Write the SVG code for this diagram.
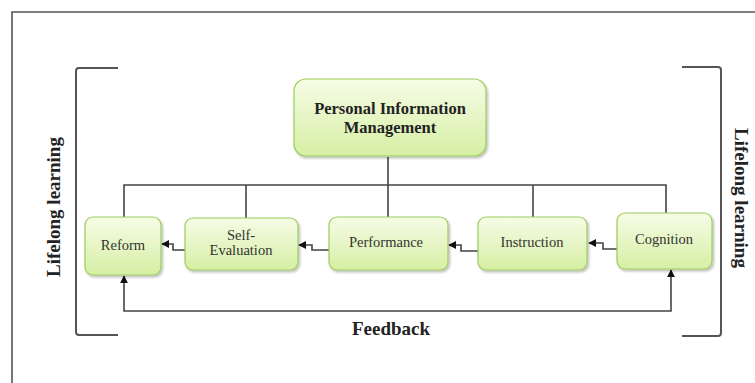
<svg xmlns="http://www.w3.org/2000/svg" width="755" height="383" viewBox="0 0 755 383">
  <style>
    .node rect { fill: url(#boxFill); stroke: #9ccc5c; stroke-width: 1.2; filter: url(#shadow); }
    .lbl { font-family: "Liberation Serif", "DejaVu Serif", serif; font-size: 14.5px; fill: #333; text-anchor: middle; }
    .title { font-family: "Liberation Serif", "DejaVu Serif", serif; font-size: 16.5px; font-weight: bold; fill: #222; text-anchor: middle; }
    .side { font-family: "Liberation Serif", "DejaVu Serif", serif; font-size: 19px; font-weight: bold; fill: #222; text-anchor: middle; }
    .wire { fill: none; stroke: #444; stroke-width: 1.6; }
    .arrow { fill: none; stroke: #444; stroke-width: 1.6; marker-end: url(#head); }
    .bracket { fill: none; stroke: #555; stroke-width: 2; stroke-linejoin: round; }
  </style>
  <defs>
    <linearGradient id="boxFill" x1="0" y1="0" x2="0" y2="1">
      <stop offset="0" stop-color="#f6fce6"/>
      <stop offset="1" stop-color="#d6efa4"/>
    </linearGradient>
    <filter id="shadow" x="-10%" y="-10%" width="125%" height="130%">
      <feDropShadow dx="1.5" dy="2" stdDeviation="1.2" flood-color="#000" flood-opacity="0.25"/>
    </filter>
    <marker id="head" viewBox="0 0 10 10" refX="9" refY="5" markerWidth="8" markerHeight="8" markerUnits="userSpaceOnUse" orient="auto-start-reverse">
      <path d="M0,0 L10,5 L0,10 Z" fill="#111"/>
    </marker>
  </defs>

  <rect width="755" height="383" fill="#fff"/>
  <!-- outer frame -->
  <path d="M12,383 V12 H755" fill="none" stroke="#555" stroke-width="1.6"/>

  <!-- brackets -->
  <path class="bracket" d="M118,68 H79 Q76,68 76,71 V332 Q76,335 79,335 H118"/>
  <path class="bracket" d="M682,67 H718 Q721,67 721,70 V333 Q721,336 718,336 H682"/>

  <text class="side" transform="translate(60,207) rotate(-90)">Lifelong learning</text>
  <text class="side" transform="translate(735,198) rotate(90)">Lifelong learning</text>

  <!-- connectors -->
  <g id="connectors">
    <path class="wire" d="M388,157 V185"/>
    <path class="wire" d="M124,217 V185 H666 V213"/>
    <path class="wire" d="M246,185 V218"/>
    <path class="wire" d="M388,185 V217"/>
    <path class="wire" d="M533,185 V217"/>
    <path class="arrow" d="M185,250 H173 V244 H162"/>
    <path class="arrow" d="M329,250 H312 V245 H299"/>
    <path class="arrow" d="M478,251 H461 V245 H449"/>
    <path class="arrow" d="M617,249 H603 V243 H589"/>
    <path class="arrow" style="marker-start:url(#head)" d="M671,270 V311 H124 V276"/>
  </g>

  <g id="pim" class="node">
    <rect x="294" y="79" width="192" height="77" rx="12"/>
    <text class="title" x="390" y="114">Personal Information</text>
    <text class="title" x="390" y="133">Management</text>
  </g>
  <g id="reform" class="node">
    <rect x="85" y="217" width="76" height="58" rx="8"/>
    <text class="lbl" x="123" y="250">Reform</text>
  </g>
  <g id="self-evaluation" class="node">
    <rect x="185" y="218" width="113" height="52" rx="8"/>
    <text class="lbl" x="241" y="240">Self-</text>
    <text class="lbl" x="241" y="255">Evaluation</text>
  </g>
  <g id="performance" class="node">
    <rect x="329" y="217" width="119" height="53" rx="8"/>
    <text class="lbl" x="386" y="247">Performance</text>
  </g>
  <g id="instruction" class="node">
    <rect x="478" y="217" width="109" height="53" rx="8"/>
    <text class="lbl" x="532" y="247">Instruction</text>
  </g>
  <g id="cognition" class="node">
    <rect x="617" y="213" width="95" height="56" rx="8"/>
    <text class="lbl" x="664" y="244">Cognition</text>
  </g>

  <text class="side" x="391" y="335">Feedback</text>
</svg>
